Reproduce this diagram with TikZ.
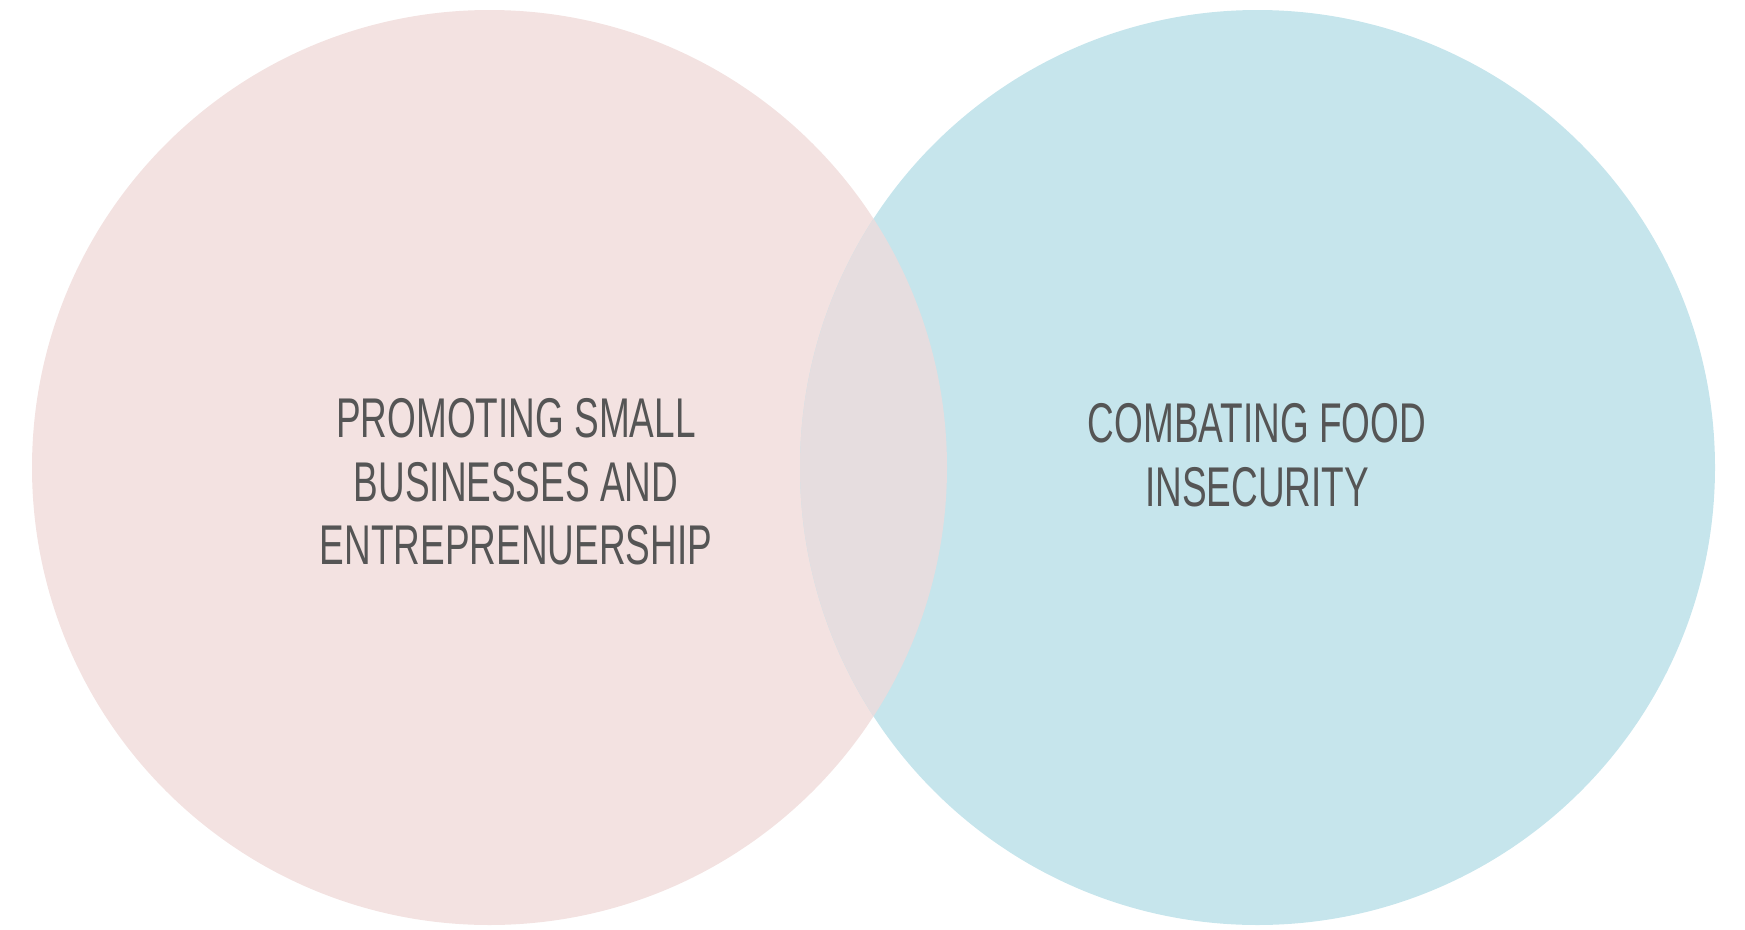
\documentclass[tikz,border=0pt]{standalone}
\usepackage{fontspec}
\setmainfont{Liberation Sans}[FakeStretch=0.66]
\definecolor{pinkfill}{HTML}{F3E2E1}
\definecolor{bluefill}{HTML}{C6E5EC}
\definecolor{overlapfill}{HTML}{E6DDDF}
\definecolor{labelgray}{HTML}{555555}
\begin{document}
\begin{tikzpicture}[x=1pt,y=-1pt,
  label text/.style={text=labelgray, align=center, inner sep=0pt,
    font=\fontsize{56}{63.5}\selectfont}]
  \useasboundingbox (0,0) rectangle (1745,929);
  % the two sets
  \coordinate (lc) at (489.5,467.5);
  \coordinate (rc) at (1257.5,467.5);
  \fill[pinkfill] (lc) circle[radius=457.5];
  \fill[bluefill] (rc) circle[radius=457.5];
  % their intersection
  \begin{scope}
    \clip (lc) circle[radius=457.5];
    \fill[overlapfill] (rc) circle[radius=457.5];
  \end{scope}
  \node[label text] (left) at (516,482) {PROMOTING SMALL\\BUSINESSES AND\\ENTREPRENUERSHIP};
  \node[label text] (right) at (1257,455) {COMBATING FOOD\\INSECURITY};
\end{tikzpicture}
\end{document}
